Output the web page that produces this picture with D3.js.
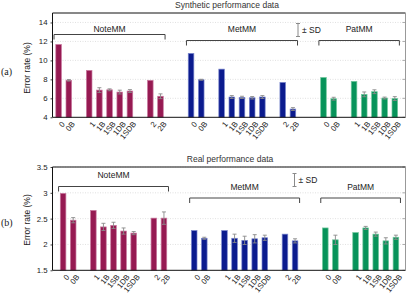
<!DOCTYPE html>
<html>
<head>
<meta charset="utf-8">
<script src="https://cdn.jsdelivr.net/npm/d3@7"></script>
<style>
  body { margin: 0; background: #fff; }
  svg { font-family: "Liberation Sans", Arial, sans-serif; }
</style>
</head>
<body>
<div id="chart"></div>
<script>
// categories
var groups = ["NoteMM", "MetMM", "PatMM"];
var noteLabels = ["0", "0B", "1", "1B", "1SB", "1DB", "1SDB", "2", "2B"];
var patLabels = ["0", "0B", "1", "1B", "1SB", "1DB", "1SDB"];

// synthetic data (a)
var synNote = [11.68, 7.9, 8.95, 6.87, 6.9, 6.66, 6.77, 7.9, 6.22];
var synNoteSD = [0, 0.08, 0, 0.25, 0.1, 0.2, 0.15, 0, 0.25];
var synMet = [10.74, 7.96, 9.08, 6.14, 6.1, 6.06, 6.14, 7.68, 4.87];
var synMetSD = [0, 0.05, 0, 0.15, 0.12, 0.13, 0.15, 0, 0.15];
var synPat = [8.2, 5.96, 7.79, 6.42, 6.7, 6.03, 5.98];
var synPatSD = [0, 0.15, 0, 0.25, 0.2, 0.1, 0.2];

// real data (b)
var realNote = [2.99, 2.47, 2.66, 2.34, 2.37, 2.26, 2.22, 2.51, 2.51];
var realNoteSD = [0, 0.05, 0, 0.07, 0.06, 0.06, 0.03, 0, 0.12];
var realMet = [2.27, 2.12, 2.27, 2.12, 2.08, 2.11, 2.13, 2.2, 2.07];
var realMetSD = [0, 0.02, 0, 0.08, 0.08, 0.08, 0.05, 0, 0.04];
var realPat = [2.32, 2.09, 2.23, 2.32, 2.2, 2.07, 2.14];
var realPatSD = [0, 0.09, 0, 0.03, 0.04, 0.06, 0.04];

var synTicks = [4, 6, 8, 10, 12, 14];
var realTicks = [1.5, 2, 2.5, 3, 3.5];

var fills = ["#961a52", "#0b1b8e", "#07935a"];
var edges = ["#c97aa0", "#7a86cc", "#70c79c"];
var slotOf = [0, 1, 3, 4, 5, 6, 7, 9, 10];

var W = 407, H = 299;
var svg = d3.select("#chart").append("svg").attr("width", W).attr("height", H);

function buildRows(values, sds, labelsList) {
  var rows = [];
  values.forEach(function(vals, g) {
    vals.forEach(function(v, i) {
      rows.push({g: g, label: labelsList[g][i], slot: g * 13 + slotOf[i], v: v, sd: sds[g][i]});
    });
  });
  return rows;
}

function panel(o) {
  var x = d3.scaleLinear().domain(o.xdom).range([52.5, 405.5]);
  var y = d3.scaleLinear().domain(o.ydom).range([o.bottom, o.top]);
  var g = svg.append("g");
  var bw = 5.6;

  // title
  g.append("text").attr("x", o.titleX).attr("y", o.top - 5).attr("text-anchor", "middle")
    .attr("font-size", 8.5).attr("fill", "#333").text(o.title);

  // grid
  g.append("g").selectAll("line").data(o.ticks.slice(1)).enter().append("line")
    .attr("x1", 52.5).attr("x2", 405.5).attr("y1", function(d) { return y(d); }).attr("y2", function(d) { return y(d); })
    .attr("stroke", "#ccc").attr("stroke-width", 0.6).attr("stroke-dasharray", "1,1.5");

  // right ticks
  g.append("g").selectAll("line").data(o.ticks).enter().append("line")
    .attr("x1", 402.5).attr("x2", 405.5).attr("y1", function(d) { return y(d); }).attr("y2", function(d) { return y(d); })
    .attr("stroke", "#999").attr("stroke-width", 0.8);

  // left axis
  var ax = g.append("g").attr("transform", "translate(52.5,0)")
    .call(d3.axisLeft(y).tickValues(o.ticks).tickSize(2).tickPadding(3).tickFormat(d3.format("")));
  ax.select(".domain").remove();
  ax.selectAll("text").attr("font-size", 7.8).attr("fill", "#222").attr("font-family", "Liberation Sans, Arial, sans-serif");
  ax.selectAll("line").attr("stroke", "#444");

  // bars
  var rows = o.rows;
  g.append("g").selectAll("rect").data(rows).enter().append("rect")
    .attr("x", function(d) { return x(d.slot) - bw / 2; })
    .attr("width", bw)
    .attr("y", function(d) { return y(d.v); })
    .attr("height", function(d) { return o.bottom - y(d.v); })
    .attr("fill", function(d) { return fills[d.g]; })
    .attr("stroke", function(d) { return edges[d.g]; })
    .attr("stroke-width", 0.7);

  // error bars
  var eb = g.append("g").selectAll("g").data(rows.filter(function(d) { return d.sd > 0; })).enter().append("g")
    .attr("stroke", "#8a8a8a").attr("stroke-width", 0.9);
  eb.append("line").attr("x1", function(d) { return x(d.slot); }).attr("x2", function(d) { return x(d.slot); })
    .attr("y1", function(d) { return y(d.v - d.sd); }).attr("y2", function(d) { return y(d.v + d.sd); });
  eb.append("line").attr("x1", function(d) { return x(d.slot) - 2; }).attr("x2", function(d) { return x(d.slot) + 2; })
    .attr("y1", function(d) { return y(d.v + d.sd); }).attr("y2", function(d) { return y(d.v + d.sd); });
  eb.append("line").attr("x1", function(d) { return x(d.slot) - 2; }).attr("x2", function(d) { return x(d.slot) + 2; })
    .attr("y1", function(d) { return y(d.v - d.sd); }).attr("y2", function(d) { return y(d.v - d.sd); });

  // frame
  g.append("path").attr("d", "M405.5," + o.top + "H52.5V" + o.bottom + "H405.5")
    .attr("fill", "none").attr("stroke", "#111").attr("stroke-width", 1);
  g.append("line").attr("x1", 405.5).attr("x2", 405.5).attr("y1", o.top).attr("y2", o.bottom)
    .attr("stroke", "#999").attr("stroke-width", 1);

  // x labels
  g.append("g").selectAll("text").data(rows).enter().append("text")
    .attr("transform", function(d) { return "translate(" + (x(d.slot) + 3) + "," + (o.bottom + 4) + ") rotate(-50)"; })
    .attr("text-anchor", "end").attr("dy", "0.6em").attr("font-size", 7.8).attr("fill", "#222")
    .text(function(d) { return d.label; });

  // brackets
  groups.forEach(function(name, gi) {
    var gr = rows.filter(function(d) { return d.g === gi; });
    var x0 = x(d3.min(gr, function(d) { return d.slot; }) - 0.45);
    var x1 = x(d3.max(gr, function(d) { return d.slot; }) + 0.45);
    var by = o.bracketY[gi];
    g.append("path").attr("d", "M" + x0 + "," + (by + 5) + "V" + by + "H" + x1 + "V" + (by + 5))
      .attr("fill", "none").attr("stroke", "#444").attr("stroke-width", 1);
    g.append("text").attr("x", (x0 + x1) / 2).attr("y", o.labelY[gi]).attr("text-anchor", "middle")
      .attr("font-size", 8.5).attr("fill", "#222").text(name);
  });

  // ± SD legend
  var lg = g.append("g").attr("stroke", "#8a8a8a").attr("stroke-width", 1);
  lg.append("line").attr("x1", o.sdX).attr("x2", o.sdX).attr("y1", o.sdY - 6.5).attr("y2", o.sdY + 6.5);
  lg.append("line").attr("x1", o.sdX - 2).attr("x2", o.sdX + 2).attr("y1", o.sdY - 6.5).attr("y2", o.sdY - 6.5);
  lg.append("line").attr("x1", o.sdX - 2).attr("x2", o.sdX + 2).attr("y1", o.sdY + 6.5).attr("y2", o.sdY + 6.5);
  g.append("text").attr("x", o.sdX + 4).attr("y", o.sdY + 3).attr("font-size", 8.5).attr("fill", "#222").text("± SD");

  // y label
  g.append("text").attr("transform", "translate(30," + o.ylabelY + ") rotate(-90)").attr("text-anchor", "middle")
    .attr("font-size", 8.5).attr("fill", "#222").text("Error rate (%)");

  // panel tag
  g.append("text").attr("x", 1).attr("y", o.tagY).attr("font-size", 10).attr("fill", "#222")
    .attr("font-family", "Liberation Serif, Times New Roman, serif").text(o.tag);
}

var lbls = [noteLabels, noteLabels, patLabels];

panel({
  title: "Synthetic performance data", titleX: 227, tag: "(a)", tagY: 75,
  top: 13, bottom: 117.3, xdom: [-0.6, 34.05], ydom: [4, 15], ticks: synTicks,
  rows: buildRows([synNote, synMet, synPat], [synNoteSD, synMetSD, synPatSD], lbls),
  bracketY: [34.5, 40.5, 40.5], labelY: [32, 32, 32], sdX: 298, sdY: 30, ylabelY: 68
});

panel({
  title: "Real performance data", titleX: 230, tag: "(b)", tagY: 226,
  top: 167, bottom: 270.3, xdom: [-1.05, 33.95], ydom: [1.5, 3.5], ticks: realTicks,
  rows: buildRows([realNote, realMet, realPat], [realNoteSD, realMetSD, realPatSD], lbls),
  bracketY: [186.5, 198, 198], labelY: [178, 189.5, 189.5], sdX: 294.5, sdY: 180, ylabelY: 220
});
</script>
</body>
</html>
